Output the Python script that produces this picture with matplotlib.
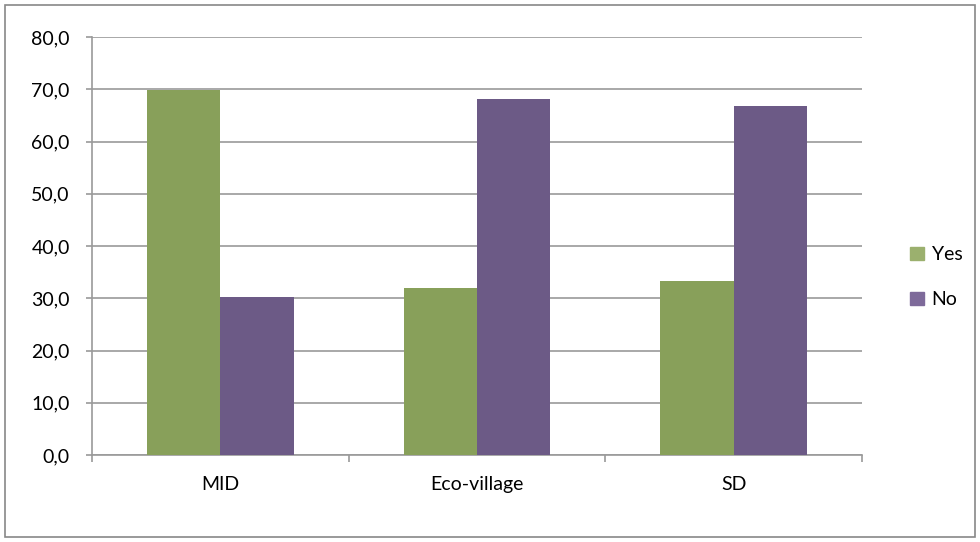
import matplotlib.pyplot as plt
import numpy as np
from matplotlib.patches import Rectangle

plt.rcParams['font.family'] = ['Lato', 'DejaVu Sans']

# survey answers in percent
groups = ['MID', 'Eco-village', 'SD']
yes = [69.8, 31.9, 33.3]
no = [30.2, 68.1, 66.7]
yticks = np.arange(0, 81, 10)

fig = plt.figure(figsize=(9.8, 5.42), dpi=100)
ax = fig.add_axes([92/980, 87/542, 770/980, 418/542])

x = np.arange(len(groups))
w = 1 / 3.5
grey = '#9a9a9a'

ax.bar(x - w/2, yes, width=w, color='#88a05a', label='Yes', zorder=3)
ax.bar(x + w/2, no, width=w, color='#6c5a86', label='No', zorder=3)

ax.set_xlim(-0.5, len(groups) - 0.5)
ax.set_ylim(0, 80)
ax.set_yticks(yticks)
ax.set_yticklabels([f'{v:.1f}'.replace('.', ',') for v in yticks], fontsize=14)
ax.yaxis.grid(True, color=grey, linewidth=1.2, zorder=0)

# category labels sit between the boundary ticks
ax.set_xticks(np.arange(-0.5, len(groups)))
ax.set_xticklabels([])
ax.set_xticks(x, minor=True)
ax.set_xticklabels(groups, minor=True, fontsize=14)
ax.tick_params(axis='x', which='minor', length=0, pad=15)
ax.tick_params(axis='x', which='major', length=5, width=1.2, color=grey)
ax.tick_params(axis='y', length=4, width=1.2, color=grey, pad=12)

for side in ['top', 'right']:
    ax.spines[side].set_visible(False)
for side in ['left', 'bottom']:
    ax.spines[side].set_color(grey)
    ax.spines[side].set_linewidth(1.2)

leg = ax.legend(loc='center left', bbox_to_anchor=(1.04, 0.425), frameon=False,
                fontsize=14, handlelength=0.7, handleheight=0.7,
                handletextpad=0.4, labelspacing=1.45)
leg.legend_handles[0].set_color('#9bb06e')
leg.legend_handles[1].set_color('#7e6a9a')

# outer chart border
fig.patches.append(Rectangle((5/980, 5/542), 970/980, 532/542, transform=fig.transFigure,
                             fill=False, edgecolor='#888888', linewidth=1.2))

fig.savefig('out.png', dpi=100)
